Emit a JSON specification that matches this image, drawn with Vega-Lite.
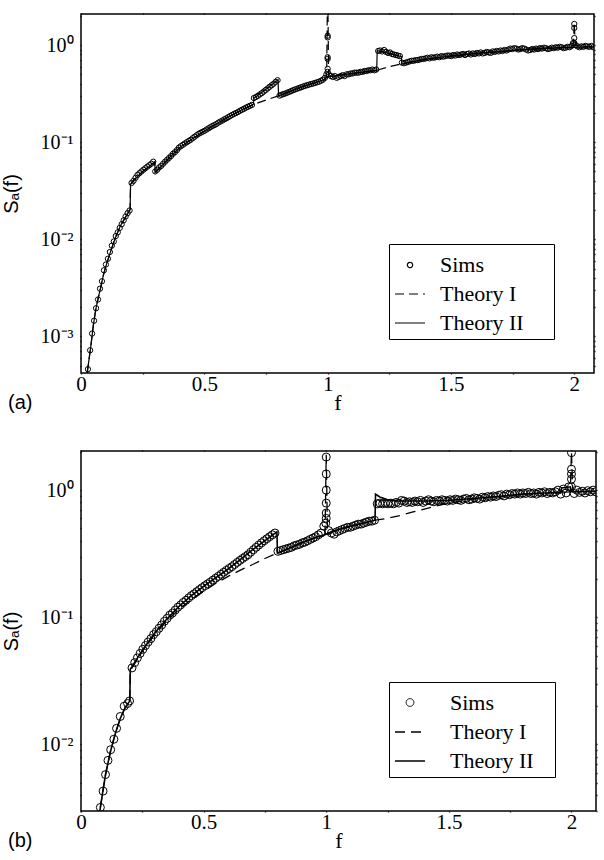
{
"$schema":"https://vega.github.io/schema/vega-lite/v6.json",
"padding":{"left":0,"top":5,"right":0,"bottom":0},
"spacing":27,
"datasets":{
"theoryA":[
{"s":"Theory I","f":0.025,"v":0.00042},{"s":"Theory I","f":0.03,"v":0.00052},{"s":"Theory I","f":0.04,"v":0.0008},{"s":"Theory I","f":0.05,"v":0.0013},{"s":"Theory I","f":0.06,"v":0.0019},{"s":"Theory I","f":0.07,"v":0.0025},{"s":"Theory I","f":0.08,"v":0.0032},{"s":"Theory I","f":0.09,"v":0.0042},{"s":"Theory I","f":0.1,"v":0.0052},{"s":"Theory I","f":0.12,"v":0.0075},{"s":"Theory I","f":0.14,"v":0.0105},{"s":"Theory I","f":0.16,"v":0.0138},{"s":"Theory I","f":0.18,"v":0.0168},{"s":"Theory I","f":0.199,"v":0.0202},{"s":"Theory I","f":0.201,"v":0.037},{"s":"Theory I","f":0.22,"v":0.042},{"s":"Theory I","f":0.25,"v":0.05},{"s":"Theory I","f":0.28,"v":0.057},{"s":"Theory I","f":0.299,"v":0.063},{"s":"Theory I","f":0.301,"v":0.049},{"s":"Theory I","f":0.33,"v":0.058},{"s":"Theory I","f":0.36,"v":0.07},{"s":"Theory I","f":0.4,"v":0.088},{"s":"Theory I","f":0.45,"v":0.108},{"s":"Theory I","f":0.5,"v":0.13},{"s":"Theory I","f":0.55,"v":0.155},{"s":"Theory I","f":0.6,"v":0.183},{"s":"Theory I","f":0.65,"v":0.215},{"s":"Theory I","f":0.7,"v":0.245},{"s":"Theory I","f":0.75,"v":0.272},{"s":"Theory I","f":0.8,"v":0.3},{"s":"Theory I","f":0.85,"v":0.335},{"s":"Theory I","f":0.9,"v":0.375},{"s":"Theory I","f":0.95,"v":0.41},{"s":"Theory I","f":0.985,"v":0.44},{"s":"Theory I","f":0.996,"v":0.47},{"s":"Theory I","f":1.0,"v":5},{"s":"Theory I","f":1.004,"v":0.48},{"s":"Theory I","f":1.05,"v":0.49},{"s":"Theory I","f":1.1,"v":0.51},{"s":"Theory I","f":1.15,"v":0.53},{"s":"Theory I","f":1.2,"v":0.55},{"s":"Theory I","f":1.25,"v":0.6},{"s":"Theory I","f":1.3,"v":0.64},{"s":"Theory I","f":1.35,"v":0.68},{"s":"Theory I","f":1.4,"v":0.72},{"s":"Theory I","f":1.5,"v":0.77},{"s":"Theory I","f":1.6,"v":0.82},{"s":"Theory I","f":1.7,"v":0.86},{"s":"Theory I","f":1.8,"v":0.9},{"s":"Theory I","f":1.9,"v":0.93},{"s":"Theory I","f":1.985,"v":0.95},{"s":"Theory I","f":1.996,"v":1.0},{"s":"Theory I","f":2.0,"v":1.7},{"s":"Theory I","f":2.004,"v":1.0},{"s":"Theory I","f":2.03,"v":0.96},{"s":"Theory I","f":2.08,"v":0.96},
{"s":"Theory II","f":0.025,"v":0.00042},{"s":"Theory II","f":0.03,"v":0.00052},{"s":"Theory II","f":0.04,"v":0.0008},{"s":"Theory II","f":0.05,"v":0.0013},{"s":"Theory II","f":0.06,"v":0.0019},{"s":"Theory II","f":0.07,"v":0.0025},{"s":"Theory II","f":0.08,"v":0.0032},{"s":"Theory II","f":0.09,"v":0.0042},{"s":"Theory II","f":0.1,"v":0.0052},{"s":"Theory II","f":0.12,"v":0.0075},{"s":"Theory II","f":0.14,"v":0.0105},{"s":"Theory II","f":0.16,"v":0.0138},{"s":"Theory II","f":0.18,"v":0.0168},{"s":"Theory II","f":0.199,"v":0.0202},{"s":"Theory II","f":0.201,"v":0.037},{"s":"Theory II","f":0.22,"v":0.042},{"s":"Theory II","f":0.25,"v":0.05},{"s":"Theory II","f":0.28,"v":0.057},{"s":"Theory II","f":0.299,"v":0.063},{"s":"Theory II","f":0.301,"v":0.049},{"s":"Theory II","f":0.33,"v":0.058},{"s":"Theory II","f":0.36,"v":0.07},{"s":"Theory II","f":0.4,"v":0.088},{"s":"Theory II","f":0.45,"v":0.108},{"s":"Theory II","f":0.5,"v":0.13},{"s":"Theory II","f":0.55,"v":0.155},{"s":"Theory II","f":0.6,"v":0.183},{"s":"Theory II","f":0.65,"v":0.215},{"s":"Theory II","f":0.699,"v":0.245},{"s":"Theory II","f":0.701,"v":0.285},{"s":"Theory II","f":0.75,"v":0.35},{"s":"Theory II","f":0.799,"v":0.44},{"s":"Theory II","f":0.801,"v":0.3},{"s":"Theory II","f":0.85,"v":0.335},{"s":"Theory II","f":0.9,"v":0.375},{"s":"Theory II","f":0.95,"v":0.41},{"s":"Theory II","f":0.985,"v":0.44},{"s":"Theory II","f":1.0,"v":0.47},{"s":"Theory II","f":1.05,"v":0.49},{"s":"Theory II","f":1.1,"v":0.51},{"s":"Theory II","f":1.15,"v":0.53},{"s":"Theory II","f":1.199,"v":0.55},{"s":"Theory II","f":1.201,"v":0.88},{"s":"Theory II","f":1.25,"v":0.82},{"s":"Theory II","f":1.299,"v":0.76},{"s":"Theory II","f":1.301,"v":0.64},{"s":"Theory II","f":1.35,"v":0.68},{"s":"Theory II","f":1.4,"v":0.72},{"s":"Theory II","f":1.5,"v":0.77},{"s":"Theory II","f":1.6,"v":0.82},{"s":"Theory II","f":1.7,"v":0.86},{"s":"Theory II","f":1.8,"v":0.9},{"s":"Theory II","f":1.9,"v":0.93},{"s":"Theory II","f":2.0,"v":0.95},{"s":"Theory II","f":2.08,"v":0.96}
],
"simsA":[
{"f":0.028,"v":0.00046},{"f":0.037,"v":0.00072},{"f":0.045,"v":0.00107},{"f":0.053,"v":0.00145},{"f":0.061,"v":0.00195},{"f":0.069,"v":0.0024},{"f":0.077,"v":0.0031},{"f":0.085,"v":0.0037},{"f":0.093,"v":0.0048},{"f":0.101,"v":0.0055},{"f":0.109,"v":0.0063},{"f":0.117,"v":0.0074},{"f":0.125,"v":0.0086},{"f":0.133,"v":0.0095},{"f":0.141,"v":0.0108},{"f":0.149,"v":0.0118},{"f":0.157,"v":0.0131},{"f":0.165,"v":0.0143},{"f":0.173,"v":0.0157},{"f":0.181,"v":0.0172},{"f":0.189,"v":0.0186},{"f":0.197,"v":0.0198},
{"f":0.205,"v":0.038},{"f":0.213,"v":0.04},{"f":0.221,"v":0.043},{"f":0.229,"v":0.046},{"f":0.237,"v":0.048},{"f":0.245,"v":0.05},{"f":0.253,"v":0.052},{"f":0.261,"v":0.054},{"f":0.269,"v":0.056},{"f":0.277,"v":0.058},{"f":0.285,"v":0.06},{"f":0.293,"v":0.063},
{"f":0.301,"v":0.05},{"f":0.309,"v":0.052},{"f":0.317,"v":0.055},{"f":0.325,"v":0.057},{"f":0.333,"v":0.06},{"f":0.341,"v":0.063},{"f":0.349,"v":0.066},{"f":0.357,"v":0.069},{"f":0.365,"v":0.072},{"f":0.373,"v":0.076},{"f":0.381,"v":0.079},{"f":0.389,"v":0.083},{"f":0.397,"v":0.088},{"f":0.405,"v":0.091},{"f":0.413,"v":0.094},{"f":0.421,"v":0.097},{"f":0.429,"v":0.1},{"f":0.437,"v":0.103},{"f":0.445,"v":0.106},{"f":0.453,"v":0.11},{"f":0.461,"v":0.114},{"f":0.469,"v":0.118},{"f":0.477,"v":0.122},{"f":0.485,"v":0.125},{"f":0.493,"v":0.128},{"f":0.501,"v":0.131},{"f":0.509,"v":0.135},{"f":0.517,"v":0.139},{"f":0.525,"v":0.143},{"f":0.533,"v":0.147},{"f":0.541,"v":0.15},{"f":0.549,"v":0.154},{"f":0.557,"v":0.159},{"f":0.565,"v":0.163},{"f":0.573,"v":0.167},{"f":0.581,"v":0.172},{"f":0.589,"v":0.176},{"f":0.597,"v":0.181},{"f":0.605,"v":0.186},{"f":0.613,"v":0.191},{"f":0.621,"v":0.196},{"f":0.629,"v":0.2},{"f":0.637,"v":0.205},{"f":0.645,"v":0.211},{"f":0.653,"v":0.216},{"f":0.661,"v":0.221},{"f":0.669,"v":0.227},{"f":0.677,"v":0.232},{"f":0.685,"v":0.237},{"f":0.693,"v":0.242},
{"f":0.701,"v":0.285},{"f":0.709,"v":0.292},{"f":0.717,"v":0.3},{"f":0.725,"v":0.31},{"f":0.733,"v":0.32},{"f":0.741,"v":0.332},{"f":0.749,"v":0.345},{"f":0.757,"v":0.358},{"f":0.765,"v":0.372},{"f":0.773,"v":0.386},{"f":0.781,"v":0.4},{"f":0.789,"v":0.418},{"f":0.797,"v":0.435},
{"f":0.805,"v":0.302},{"f":0.813,"v":0.308},{"f":0.821,"v":0.313},{"f":0.829,"v":0.318},{"f":0.837,"v":0.324},{"f":0.845,"v":0.33},{"f":0.853,"v":0.337},{"f":0.861,"v":0.344},{"f":0.869,"v":0.35},{"f":0.877,"v":0.356},{"f":0.885,"v":0.362},{"f":0.893,"v":0.368},{"f":0.901,"v":0.375},{"f":0.909,"v":0.381},{"f":0.917,"v":0.386},{"f":0.925,"v":0.392},{"f":0.933,"v":0.397},{"f":0.941,"v":0.402},{"f":0.949,"v":0.408},{"f":0.957,"v":0.414},{"f":0.965,"v":0.42},{"f":0.973,"v":0.43},{"f":0.981,"v":0.44},{"f":0.989,"v":0.46},{"f":0.995,"v":0.5},
{"f":1.0,"v":1.25},{"f":1.0,"v":1.2},{"f":1.0,"v":0.75},{"f":1.0,"v":0.72},{"f":1.0,"v":0.57},{"f":1.0,"v":0.53},
{"f":1.005,"v":0.5},{"f":1.013,"v":0.48},{"f":1.021,"v":0.47},{"f":1.029,"v":0.48},{"f":1.037,"v":0.46},{"f":1.045,"v":0.47},{"f":1.053,"v":0.48},{"f":1.061,"v":0.49},{"f":1.069,"v":0.48},{"f":1.077,"v":0.5},{"f":1.085,"v":0.5},{"f":1.093,"v":0.51},{"f":1.101,"v":0.51},{"f":1.109,"v":0.52},{"f":1.117,"v":0.52},{"f":1.125,"v":0.52},{"f":1.133,"v":0.53},{"f":1.141,"v":0.53},{"f":1.149,"v":0.54},{"f":1.157,"v":0.54},{"f":1.165,"v":0.55},{"f":1.173,"v":0.55},{"f":1.181,"v":0.56},{"f":1.189,"v":0.55},{"f":1.197,"v":0.56},
{"f":1.205,"v":0.87},{"f":1.213,"v":0.88},{"f":1.221,"v":0.86},{"f":1.229,"v":0.89},{"f":1.237,"v":0.85},{"f":1.245,"v":0.83},{"f":1.253,"v":0.84},{"f":1.261,"v":0.81},{"f":1.269,"v":0.8},{"f":1.277,"v":0.79},{"f":1.285,"v":0.78},{"f":1.293,"v":0.77},
{"f":1.301,"v":0.66},{"f":1.309,"v":0.65},{"f":1.317,"v":0.66},{"f":1.325,"v":0.67},{"f":1.333,"v":0.68},{"f":1.341,"v":0.69},{"f":1.349,"v":0.69},{"f":1.357,"v":0.7},{"f":1.365,"v":0.7},{"f":1.373,"v":0.71},{"f":1.381,"v":0.72},{"f":1.389,"v":0.72},{"f":1.397,"v":0.73},{"f":1.405,"v":0.74},{"f":1.413,"v":0.73},{"f":1.421,"v":0.75},{"f":1.429,"v":0.74},{"f":1.437,"v":0.75},{"f":1.445,"v":0.76},{"f":1.453,"v":0.75},{"f":1.461,"v":0.77},{"f":1.469,"v":0.76},{"f":1.477,"v":0.77},{"f":1.485,"v":0.78},{"f":1.493,"v":0.78},{"f":1.501,"v":0.77},{"f":1.509,"v":0.79},{"f":1.517,"v":0.78},{"f":1.525,"v":0.8},{"f":1.533,"v":0.79},{"f":1.541,"v":0.8},{"f":1.549,"v":0.81},{"f":1.557,"v":0.79},{"f":1.565,"v":0.81},{"f":1.573,"v":0.82},{"f":1.581,"v":0.8},{"f":1.589,"v":0.82},{"f":1.597,"v":0.81},{"f":1.605,"v":0.83},{"f":1.613,"v":0.82},{"f":1.621,"v":0.84},{"f":1.629,"v":0.82},{"f":1.637,"v":0.83},{"f":1.645,"v":0.85},{"f":1.653,"v":0.84},{"f":1.661,"v":0.83},{"f":1.669,"v":0.86},{"f":1.677,"v":0.85},{"f":1.685,"v":0.87},{"f":1.693,"v":0.86},{"f":1.701,"v":0.88},{"f":1.709,"v":0.87},{"f":1.717,"v":0.89},{"f":1.725,"v":0.88},{"f":1.733,"v":0.9},{"f":1.741,"v":0.92},{"f":1.749,"v":0.91},{"f":1.757,"v":0.93},{"f":1.765,"v":0.92},{"f":1.773,"v":0.9},{"f":1.781,"v":0.91},{"f":1.789,"v":0.93},{"f":1.797,"v":0.92},{"f":1.805,"v":0.9},{"f":1.813,"v":0.88},{"f":1.821,"v":0.89},{"f":1.829,"v":0.91},{"f":1.837,"v":0.9},{"f":1.845,"v":0.92},{"f":1.853,"v":0.91},{"f":1.861,"v":0.93},{"f":1.869,"v":0.92},{"f":1.877,"v":0.94},{"f":1.885,"v":0.93},{"f":1.893,"v":0.91},{"f":1.901,"v":0.92},{"f":1.909,"v":0.94},{"f":1.917,"v":0.93},{"f":1.925,"v":0.95},{"f":1.933,"v":0.94},{"f":1.941,"v":0.96},{"f":1.949,"v":0.95},{"f":1.957,"v":0.93},{"f":1.965,"v":0.94},{"f":1.973,"v":0.96},{"f":1.981,"v":0.95},{"f":1.989,"v":0.98},{"f":1.995,"v":1.05},
{"f":2.0,"v":1.65},{"f":2.0,"v":1.5},{"f":2.0,"v":1.18},{"f":2.0,"v":1.05},
{"f":2.005,"v":1.0},{"f":2.013,"v":0.97},{"f":2.021,"v":0.95},{"f":2.029,"v":0.97},{"f":2.037,"v":0.96},{"f":2.045,"v":0.98},{"f":2.053,"v":0.97},{"f":2.061,"v":0.96},{"f":2.069,"v":0.98},{"f":2.077,"v":0.95}
],
"theoryB":[
{"s":"Theory I","f":0.07,"v":0.0024},{"s":"Theory I","f":0.08,"v":0.0033},{"s":"Theory I","f":0.09,"v":0.0044},{"s":"Theory I","f":0.1,"v":0.0058},{"s":"Theory I","f":0.12,"v":0.0088},{"s":"Theory I","f":0.14,"v":0.0122},{"s":"Theory I","f":0.16,"v":0.016},{"s":"Theory I","f":0.18,"v":0.0195},{"s":"Theory I","f":0.199,"v":0.022},{"s":"Theory I","f":0.201,"v":0.038},{"s":"Theory I","f":0.25,"v":0.054},{"s":"Theory I","f":0.3,"v":0.073},{"s":"Theory I","f":0.35,"v":0.094},{"s":"Theory I","f":0.4,"v":0.116},{"s":"Theory I","f":0.45,"v":0.138},{"s":"Theory I","f":0.5,"v":0.16},{"s":"Theory I","f":0.55,"v":0.185},{"s":"Theory I","f":0.6,"v":0.21},{"s":"Theory I","f":0.65,"v":0.235},{"s":"Theory I","f":0.7,"v":0.26},{"s":"Theory I","f":0.75,"v":0.29},{"s":"Theory I","f":0.8,"v":0.32},{"s":"Theory I","f":0.85,"v":0.35},{"s":"Theory I","f":0.9,"v":0.385},{"s":"Theory I","f":0.95,"v":0.42},{"s":"Theory I","f":0.995,"v":0.45},{"s":"Theory I","f":1.0,"v":1.9},{"s":"Theory I","f":1.005,"v":0.46},{"s":"Theory I","f":1.05,"v":0.49},{"s":"Theory I","f":1.1,"v":0.52},{"s":"Theory I","f":1.15,"v":0.55},{"s":"Theory I","f":1.2,"v":0.58},{"s":"Theory I","f":1.25,"v":0.6},{"s":"Theory I","f":1.3,"v":0.63},{"s":"Theory I","f":1.35,"v":0.67},{"s":"Theory I","f":1.4,"v":0.71},{"s":"Theory I","f":1.45,"v":0.75},{"s":"Theory I","f":1.5,"v":0.79},{"s":"Theory I","f":1.55,"v":0.82},{"s":"Theory I","f":1.6,"v":0.85},{"s":"Theory I","f":1.7,"v":0.89},{"s":"Theory I","f":1.8,"v":0.93},{"s":"Theory I","f":1.9,"v":0.95},{"s":"Theory I","f":1.995,"v":0.97},{"s":"Theory I","f":2.0,"v":2.0},{"s":"Theory I","f":2.005,"v":0.97},{"s":"Theory I","f":2.1,"v":0.98},
{"s":"Theory II","f":0.07,"v":0.0024},{"s":"Theory II","f":0.08,"v":0.0033},{"s":"Theory II","f":0.09,"v":0.0044},{"s":"Theory II","f":0.1,"v":0.0058},{"s":"Theory II","f":0.12,"v":0.0088},{"s":"Theory II","f":0.14,"v":0.0122},{"s":"Theory II","f":0.16,"v":0.016},{"s":"Theory II","f":0.18,"v":0.0195},{"s":"Theory II","f":0.199,"v":0.022},{"s":"Theory II","f":0.201,"v":0.039},{"s":"Theory II","f":0.25,"v":0.055},{"s":"Theory II","f":0.3,"v":0.075},{"s":"Theory II","f":0.35,"v":0.097},{"s":"Theory II","f":0.4,"v":0.122},{"s":"Theory II","f":0.45,"v":0.148},{"s":"Theory II","f":0.5,"v":0.175},{"s":"Theory II","f":0.55,"v":0.205},{"s":"Theory II","f":0.6,"v":0.24},{"s":"Theory II","f":0.65,"v":0.285},{"s":"Theory II","f":0.7,"v":0.34},{"s":"Theory II","f":0.75,"v":0.4},{"s":"Theory II","f":0.799,"v":0.47},{"s":"Theory II","f":0.801,"v":0.32},{"s":"Theory II","f":0.85,"v":0.35},{"s":"Theory II","f":0.9,"v":0.385},{"s":"Theory II","f":0.95,"v":0.42},{"s":"Theory II","f":1.0,"v":0.45},{"s":"Theory II","f":1.05,"v":0.49},{"s":"Theory II","f":1.1,"v":0.52},{"s":"Theory II","f":1.15,"v":0.55},{"s":"Theory II","f":1.199,"v":0.58},{"s":"Theory II","f":1.201,"v":0.93},{"s":"Theory II","f":1.22,"v":0.88},{"s":"Theory II","f":1.25,"v":0.84},{"s":"Theory II","f":1.3,"v":0.82},{"s":"Theory II","f":1.4,"v":0.82},{"s":"Theory II","f":1.5,"v":0.83},{"s":"Theory II","f":1.6,"v":0.86},{"s":"Theory II","f":1.7,"v":0.89},{"s":"Theory II","f":1.8,"v":0.93},{"s":"Theory II","f":1.9,"v":0.95},{"s":"Theory II","f":1.955,"v":0.96},{"s":"Theory II","f":1.96,"v":1.04},{"s":"Theory II","f":1.995,"v":1.06},{"s":"Theory II","f":2.0,"v":0.97},{"s":"Theory II","f":2.1,"v":0.98}
],
"simsB":[
{"f":0.079,"v":0.0032},{"f":0.09,"v":0.0043},{"f":0.1,"v":0.0058},{"f":0.11,"v":0.0075},{"f":0.121,"v":0.0091},{"f":0.134,"v":0.011},{"f":0.145,"v":0.0134},{"f":0.16,"v":0.0166},{"f":0.176,"v":0.02},{"f":0.19,"v":0.021},{"f":0.198,"v":0.022},
{"f":0.208,"v":0.04},{"f":0.219,"v":0.044},{"f":0.23,"v":0.048},{"f":0.241,"v":0.052},{"f":0.252,"v":0.056},{"f":0.263,"v":0.06},{"f":0.274,"v":0.064},{"f":0.285,"v":0.068},{"f":0.296,"v":0.073},{"f":0.307,"v":0.077},{"f":0.318,"v":0.082},{"f":0.329,"v":0.087},{"f":0.34,"v":0.093},{"f":0.351,"v":0.098},{"f":0.362,"v":0.104},{"f":0.373,"v":0.108},{"f":0.384,"v":0.114},{"f":0.395,"v":0.12},{"f":0.406,"v":0.125},{"f":0.417,"v":0.131},{"f":0.428,"v":0.136},{"f":0.439,"v":0.142},{"f":0.45,"v":0.148},{"f":0.461,"v":0.153},{"f":0.472,"v":0.159},{"f":0.483,"v":0.165},{"f":0.494,"v":0.171},{"f":0.505,"v":0.177},{"f":0.516,"v":0.183},{"f":0.527,"v":0.189},{"f":0.538,"v":0.196},{"f":0.549,"v":0.203},{"f":0.56,"v":0.21},{"f":0.571,"v":0.218},{"f":0.582,"v":0.226},{"f":0.593,"v":0.234},{"f":0.604,"v":0.242},{"f":0.615,"v":0.25},{"f":0.626,"v":0.26},{"f":0.637,"v":0.27},{"f":0.648,"v":0.28},{"f":0.659,"v":0.29},{"f":0.67,"v":0.3},{"f":0.681,"v":0.31},{"f":0.692,"v":0.325},{"f":0.703,"v":0.34},{"f":0.714,"v":0.355},{"f":0.725,"v":0.37},{"f":0.736,"v":0.385},{"f":0.747,"v":0.4},{"f":0.758,"v":0.415},{"f":0.769,"v":0.43},{"f":0.78,"v":0.445},{"f":0.791,"v":0.46},
{"f":0.803,"v":0.33},{"f":0.814,"v":0.335},{"f":0.825,"v":0.34},{"f":0.836,"v":0.345},{"f":0.847,"v":0.35},{"f":0.858,"v":0.355},{"f":0.869,"v":0.365},{"f":0.88,"v":0.37},{"f":0.891,"v":0.375},{"f":0.902,"v":0.385},{"f":0.913,"v":0.39},{"f":0.924,"v":0.4},{"f":0.935,"v":0.41},{"f":0.946,"v":0.42},{"f":0.957,"v":0.43},{"f":0.968,"v":0.445},{"f":0.979,"v":0.46},{"f":0.99,"v":0.52},
{"f":1.0,"v":1.82},{"f":1.0,"v":1.34},{"f":1.0,"v":1.0},{"f":1.0,"v":0.79},{"f":1.0,"v":0.66},{"f":1.0,"v":0.6},{"f":0.998,"v":0.55},
{"f":1.01,"v":0.48},{"f":1.021,"v":0.46},{"f":1.032,"v":0.45},{"f":1.043,"v":0.47},{"f":1.054,"v":0.48},{"f":1.065,"v":0.49},{"f":1.076,"v":0.5},{"f":1.087,"v":0.51},{"f":1.098,"v":0.51},{"f":1.109,"v":0.52},{"f":1.12,"v":0.53},{"f":1.131,"v":0.54},{"f":1.142,"v":0.54},{"f":1.153,"v":0.55},{"f":1.164,"v":0.56},{"f":1.175,"v":0.57},{"f":1.186,"v":0.57},{"f":1.197,"v":0.58},
{"f":1.208,"v":0.78},{"f":1.219,"v":0.79},{"f":1.23,"v":0.78},{"f":1.241,"v":0.79},{"f":1.252,"v":0.78},{"f":1.263,"v":0.79},{"f":1.274,"v":0.78},{"f":1.285,"v":0.8},{"f":1.296,"v":0.79},{"f":1.307,"v":0.83},{"f":1.318,"v":0.82},{"f":1.329,"v":0.8},{"f":1.34,"v":0.81},{"f":1.351,"v":0.8},{"f":1.362,"v":0.82},{"f":1.373,"v":0.81},{"f":1.384,"v":0.83},{"f":1.395,"v":0.8},{"f":1.406,"v":0.82},{"f":1.417,"v":0.84},{"f":1.428,"v":0.82},{"f":1.439,"v":0.81},{"f":1.45,"v":0.83},{"f":1.461,"v":0.82},{"f":1.472,"v":0.84},{"f":1.483,"v":0.83},{"f":1.494,"v":0.82},{"f":1.505,"v":0.84},{"f":1.516,"v":0.83},{"f":1.527,"v":0.85},{"f":1.538,"v":0.84},{"f":1.549,"v":0.83},{"f":1.56,"v":0.85},{"f":1.571,"v":0.86},{"f":1.582,"v":0.84},{"f":1.593,"v":0.85},{"f":1.604,"v":0.87},{"f":1.615,"v":0.86},{"f":1.626,"v":0.85},{"f":1.637,"v":0.88},{"f":1.648,"v":0.87},{"f":1.659,"v":0.89},{"f":1.67,"v":0.88},{"f":1.681,"v":0.9},{"f":1.692,"v":0.89},{"f":1.703,"v":0.91},{"f":1.714,"v":0.92},{"f":1.725,"v":0.9},{"f":1.736,"v":0.93},{"f":1.747,"v":0.92},{"f":1.758,"v":0.94},{"f":1.769,"v":0.93},{"f":1.78,"v":0.95},{"f":1.791,"v":0.93},{"f":1.802,"v":0.95},{"f":1.813,"v":0.94},{"f":1.824,"v":0.96},{"f":1.835,"v":0.94},{"f":1.846,"v":0.95},{"f":1.857,"v":0.93},{"f":1.868,"v":0.96},{"f":1.879,"v":0.95},{"f":1.89,"v":0.97},{"f":1.901,"v":0.94},{"f":1.912,"v":0.96},{"f":1.923,"v":0.95},{"f":1.934,"v":0.97},{"f":1.945,"v":1.0},{"f":1.956,"v":0.93},{"f":1.967,"v":1.02},{"f":1.978,"v":0.95},{"f":1.989,"v":1.06},
{"f":2.0,"v":1.97},{"f":2.0,"v":1.46},{"f":2.0,"v":1.34},{"f":2.0,"v":1.22},{"f":2.0,"v":1.06},
{"f":2.011,"v":0.94},{"f":2.022,"v":1.0},{"f":2.033,"v":0.96},{"f":2.044,"v":0.98},{"f":2.055,"v":0.95},{"f":2.066,"v":0.99},{"f":2.077,"v":0.97},{"f":2.088,"v":1.0},{"f":2.098,"v":0.97}
]
},
"vconcat":[
{
"width":513,"height":359,
"title":{"text":"(a)","orient":"bottom","anchor":"start","frame":"group","dx":-73,"offset":-20,"font":"Liberation Sans","fontSize":20,"fontWeight":"normal","color":"black"},
"layer":[
{
"data":{"name":"theoryA"},
"mark":{"type":"line","clip":true,"color":"black","strokeWidth":1.2},
"encoding":{
"x":{"field":"f","type":"quantitative","scale":{"domain":[0,2.08],"nice":false,"zero":false},
"axis":{"orient":"top","values":[0,0.25,0.5,0.75,1,1.25,1.5,1.75,2],"labels":false,"title":null,"ticks":true,"tickSize":1,"minExtent":0,"zindex":1,"encode":{"ticks":{"y2":{"value":{"expr":"datum.value % 0.5 === 0 ? 10 : 5"}}}}}},
"y":{"field":"v","type":"quantitative","scale":{"type":"log","domain":[0.00042,2.09],"nice":false},
"axis":{"orient":"right","values":[0.0005,0.0006,0.0007,0.0008,0.0009,0.001,0.002,0.003,0.004,0.005,0.006,0.007,0.008,0.009,0.01,0.02,0.03,0.04,0.05,0.06,0.07,0.08,0.09,0.1,0.2,0.3,0.4,0.5,0.6,0.7,0.8,0.9,1,2],"labels":false,"title":null,"ticks":true,"tickSize":1,"minExtent":0,"zindex":1,"encode":{"ticks":{"x2":{"value":{"expr":"abs(log(datum.value)/LN10 - round(log(datum.value)/LN10)) < 0.001 ? -10 : -5"}}}}}},
"strokeDash":{"field":"s","type":"nominal","scale":{"domain":["Sims","Theory I","Theory II"],"range":[[1,0],[9,5],[1,0]]},
"legend":{"orient":"none","legendX":308,"legendY":230,"title":null,"strokeColor":"black","fillColor":"white","padding":5,"cornerRadius":0,"labelFont":"Liberation Serif","labelFontSize":22,"labelColor":"black","labelOffset":14,"symbolSize":900,"symbolType":"stroke","symbolStrokeColor":"black","symbolStrokeWidth":1.2,"rowPadding":2,
"labelExpr":"datum.label + '\u2009\u2009\u2800'",
"encode":{"symbols":{"update":{"shape":{"signal":"datum.value === 'Sims' ? 'circle' : 'stroke'"},"size":{"signal":"datum.value === 'Sims' ? 28 : 900"},"stroke":{"value":"black"},"fill":{"value":"transparent"},"strokeWidth":{"value":1.2}}}}}}
}
},
{
"data":{"name":"simsA"},
"mark":{"type":"point","shape":"circle","size":28,"color":"black","filled":false,"strokeWidth":1,"opacity":1,"clip":true},
"encoding":{
"x":{"field":"f","type":"quantitative","scale":{"domain":[0,2.08],"nice":false,"zero":false},
"axis":{"orient":"bottom","values":[0,0.25,0.5,0.75,1,1.25,1.5,1.75,2],"labelExpr":"datum.value % 0.5 === 0 ? '' + datum.value : ''","ticks":true,"tickSize":1,"zindex":1,"labelPadding":-1,"labelFlush":false,"labelOverlap":false,"labelBound":false,"labelFontSize":21,
"encode":{"ticks":{"y2":{"value":{"expr":"datum.value % 0.5 === 0 ? -10 : -5"}}}},
"title":"f","titleFont":"Liberation Serif","titleFontSize":22,"titlePadding":-2}},
"y":{"field":"v","type":"quantitative","scale":{"type":"log","domain":[0.00042,2.09],"nice":false},
"axis":{"orient":"left","values":[0.0005,0.0006,0.0007,0.0008,0.0009,0.001,0.002,0.003,0.004,0.005,0.006,0.007,0.008,0.009,0.01,0.02,0.03,0.04,0.05,0.06,0.07,0.08,0.09,0.1,0.2,0.3,0.4,0.5,0.6,0.7,0.8,0.9,1,2],
"labelExpr":"abs(log(datum.value)/LN10 - round(log(datum.value)/LN10)) < 0.001 ? '10' + ['\u207b\u00b3','\u207b\u00b2','\u207b\u00b9','\u2070','\u00b9'][round(log(datum.value)/LN10)+3] : ''",
"ticks":true,"tickSize":1,"zindex":1,"labelPadding":7,"labelFontSize":20,"labelOverlap":false,"labelFlush":false,"labelBound":false,
"encode":{"ticks":{"x2":{"value":{"expr":"abs(log(datum.value)/LN10 - round(log(datum.value)/LN10)) < 0.001 ? 10 : 5"}}}},
"title":"S\u2090(f)","titleFont":"Liberation Sans","titleFontSize":20,"titlePadding":19}}
}
}
],
"resolve":{"axis":{"x":"independent","y":"independent"}}
},
{
"width":515,"height":360,
"title":{"text":"(b)","orient":"bottom","anchor":"start","frame":"group","dx":-73,"offset":-20,"font":"Liberation Sans","fontSize":20,"fontWeight":"normal","color":"black"},
"layer":[
{
"data":{"name":"theoryB"},
"mark":{"type":"line","clip":true,"color":"black"},
"encoding":{
"x":{"field":"f","type":"quantitative","scale":{"domain":[0,2.1],"nice":false,"zero":false},
"axis":{"orient":"top","values":[0,0.25,0.5,0.75,1,1.25,1.5,1.75,2],"labels":false,"title":null,"ticks":true,"tickSize":1,"minExtent":0,"zindex":1,"encode":{"ticks":{"y2":{"value":{"expr":"datum.value % 0.5 === 0 ? 10 : 5"}}}}}},
"y":{"field":"v","type":"quantitative","scale":{"type":"log","domain":[0.003,2.03],"nice":false},
"axis":{"orient":"right","values":[0.003,0.004,0.005,0.006,0.007,0.008,0.009,0.01,0.02,0.03,0.04,0.05,0.06,0.07,0.08,0.09,0.1,0.2,0.3,0.4,0.5,0.6,0.7,0.8,0.9,1,2],"labels":false,"title":null,"ticks":true,"tickSize":1,"minExtent":0,"zindex":1,"encode":{"ticks":{"x2":{"value":{"expr":"abs(log(datum.value)/LN10 - round(log(datum.value)/LN10)) < 0.001 ? -10 : -5"}}}}}},
"strokeWidth":{"field":"s","type":"ordinal","scale":{"domain":["Sims","Theory I","Theory II"],"range":[1,1.6,2.6]},"legend":null},
"strokeDash":{"field":"s","type":"nominal","scale":{"domain":["Sims","Theory I","Theory II"],"range":[[1,0],[10,6],[1,0]]},
"legend":{"orient":"none","legendX":308,"legendY":231,"title":null,"strokeColor":"black","fillColor":"white","padding":5,"cornerRadius":0,"labelFont":"Liberation Serif","labelFontSize":22,"labelColor":"black","labelOffset":24,"symbolSize":900,"symbolType":"stroke","symbolStrokeColor":"black","symbolStrokeWidth":1.6,"rowPadding":2,
"labelExpr":"datum.label + '\u2800'",
"encode":{"symbols":{"update":{"shape":{"signal":"datum.value === 'Sims' ? 'circle' : 'stroke'"},"size":{"signal":"datum.value === 'Sims' ? 60 : 900"},"stroke":{"value":"black"},"fill":{"value":"transparent"},"strokeWidth":{"signal":"datum.value === 'Theory II' ? 2.8 : (datum.value === 'Sims' ? 1 : 1.6)"}}}}}}
}
},
{
"data":{"name":"simsB"},
"mark":{"type":"point","shape":"circle","size":64,"color":"black","filled":false,"strokeWidth":1,"opacity":1,"clip":true},
"encoding":{
"x":{"field":"f","type":"quantitative","scale":{"domain":[0,2.1],"nice":false,"zero":false},
"axis":{"orient":"bottom","values":[0,0.25,0.5,0.75,1,1.25,1.5,1.75,2],"labelExpr":"datum.value % 0.5 === 0 ? '' + datum.value : ''","ticks":true,"tickSize":1,"zindex":1,"labelPadding":-1,"labelFlush":false,"labelOverlap":false,"labelBound":false,"labelFontSize":21,
"encode":{"ticks":{"y2":{"value":{"expr":"datum.value % 0.5 === 0 ? -10 : -5"}}}},
"title":"f","titleFont":"Liberation Serif","titleFontSize":22,"titlePadding":-2}},
"y":{"field":"v","type":"quantitative","scale":{"type":"log","domain":[0.003,2.03],"nice":false},
"axis":{"orient":"left","values":[0.003,0.004,0.005,0.006,0.007,0.008,0.009,0.01,0.02,0.03,0.04,0.05,0.06,0.07,0.08,0.09,0.1,0.2,0.3,0.4,0.5,0.6,0.7,0.8,0.9,1,2],
"labelExpr":"abs(log(datum.value)/LN10 - round(log(datum.value)/LN10)) < 0.001 ? '10' + ['\u207b\u00b3','\u207b\u00b2','\u207b\u00b9','\u2070','\u00b9'][round(log(datum.value)/LN10)+3] : ''",
"ticks":true,"tickSize":1,"zindex":1,"labelPadding":7,"labelFontSize":20,"labelOverlap":false,"labelFlush":false,"labelBound":false,
"encode":{"ticks":{"x2":{"value":{"expr":"abs(log(datum.value)/LN10 - round(log(datum.value)/LN10)) < 0.001 ? 10 : 5"}}}},
"title":"S\u2090(f)","titleFont":"Liberation Sans","titleFontSize":20,"titlePadding":19}}
}
}
],
"resolve":{"axis":{"x":"independent","y":"independent"}}
}
],
"resolve":{"scale":{"strokeDash":"independent","strokeWidth":"independent"}},
"config":{
"view":{"stroke":"black","strokeWidth":1.5},
"axis":{"domain":false,"grid":false,"tickColor":"black","tickWidth":1.3,"labelColor":"black","titleColor":"black","labelFont":"Liberation Serif","titleFontWeight":"normal"}
}
}
